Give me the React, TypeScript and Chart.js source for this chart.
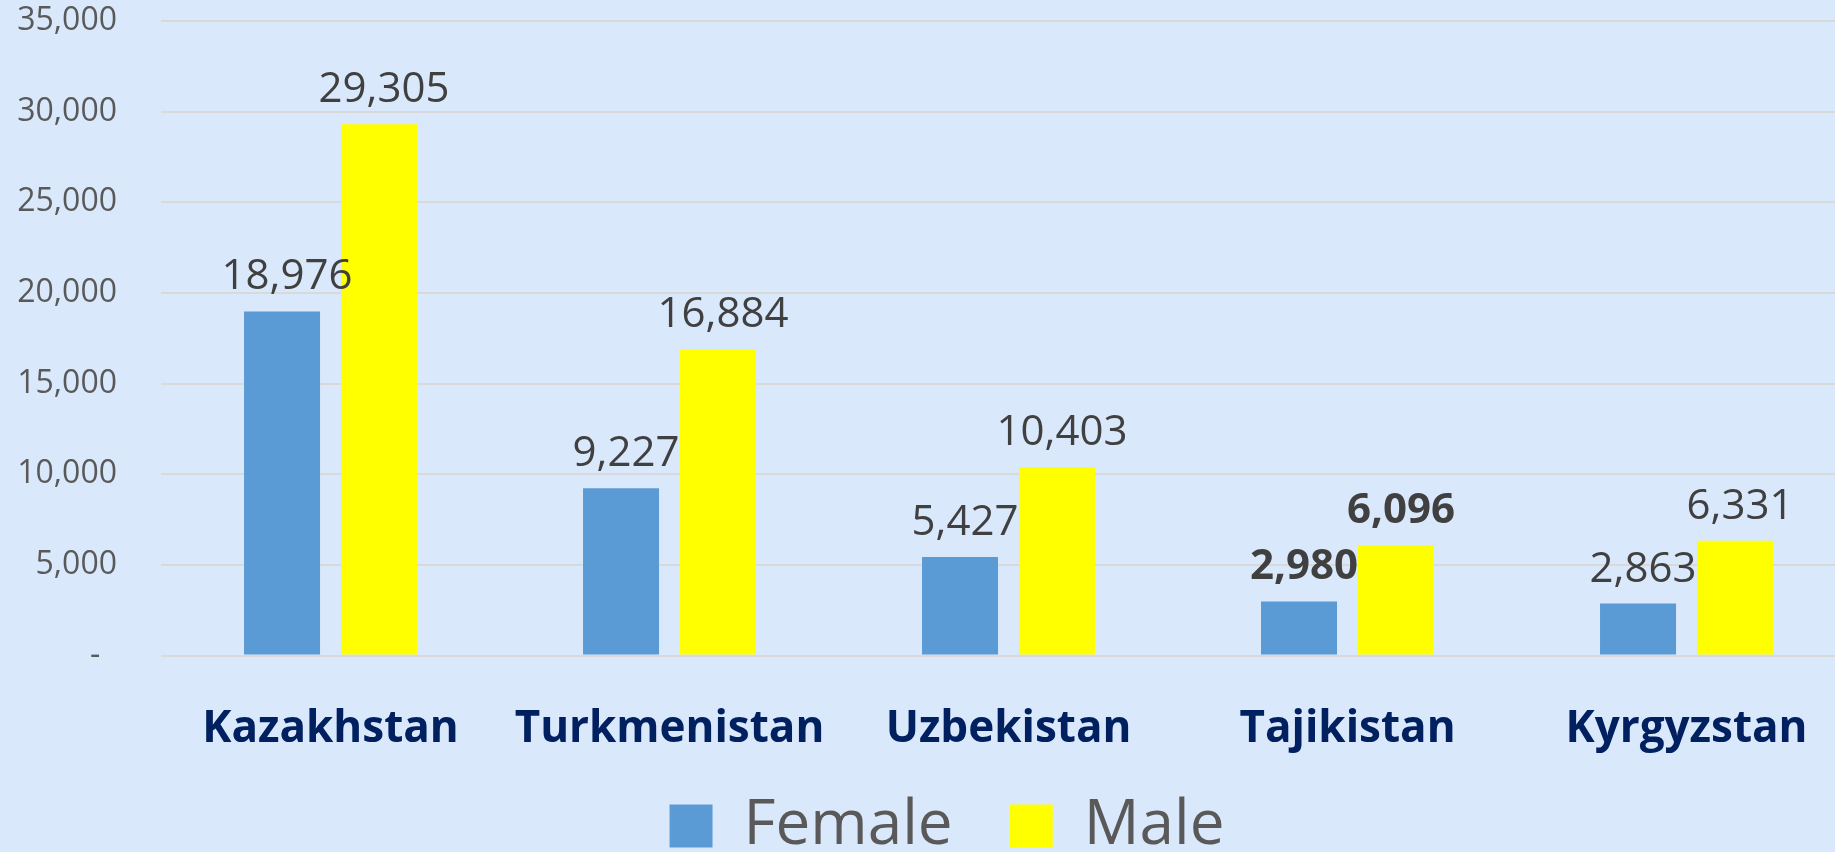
import React, { useEffect, useRef } from "react";
import { Chart, registerables } from "chart.js";

Chart.register(...registerables);

const categories = ["Kazakhstan", "Turkmenistan", "Uzbekistan", "Tajikistan", "Kyrgyzstan"];
const seriesNames = ["Female", "Male"];
const femaleValues = [18976, 9227, 5427, 2980, 2863];
const maleValues = [29305, 16884, 10403, 6096, 6331];
const yTickValues = [0, 5000, 10000, 15000, 20000, 25000, 30000, 35000];
const yTickLabels = ["-", "5,000", "10,000", "15,000", "20,000", "25,000", "30,000", "35,000"];
const boldLabelCategories = ["Tajikistan"];

const FONT = '"Open Sans", "Noto Sans", sans-serif';
const BG = "#DAE8FC";
const CANVAS_W = 1894;
const CANVAS_H = 867;

const valueLabels = {
  id: "valueLabels",
  afterDatasetsDraw(chart: any) {
    const ctx = chart.ctx;
    ctx.save();
    chart.data.datasets.forEach((ds: any, di: number) => {
      const meta = chart.getDatasetMeta(di);
      meta.data.forEach((bar: any, i: number) => {
        const v = ds.data[i] as number;
        const bold = boldLabelCategories.includes(categories[i]);
        ctx.font = `${bold ? "bold " : ""}42px ${FONT}`;
        ctx.fillStyle = "#404040";
        ctx.textAlign = "center";
        ctx.textBaseline = "alphabetic";
        ctx.fillText(v.toLocaleString("en-US"), bar.x + 5, bar.y - 22);
      });
    });
    ctx.restore();
  },
};

export default function App() {
  const canvasRef = useRef<HTMLCanvasElement | null>(null);

  useEffect(() => {
    const canvas = canvasRef.current;
    if (!canvas) return;
    const chart = new Chart(canvas, {
      type: "bar",
      data: {
        labels: categories,
        datasets: [
          {
            label: seriesNames[0],
            data: femaleValues,
            backgroundColor: "#5B9BD5",
            borderWidth: 0,
            categoryPercentage: 0.572,
            barPercentage: 0.784,
          },
          {
            label: seriesNames[1],
            data: maleValues,
            backgroundColor: "#FFFF00",
            borderWidth: 0,
            categoryPercentage: 0.572,
            barPercentage: 0.784,
          },
        ],
      },
      options: {
        responsive: false,
        animation: false,
        events: [],
        devicePixelRatio: 1,
        layout: { padding: { left: 0, top: 21, right: 0, bottom: 0 } },
        plugins: {
          tooltip: { enabled: false },
          legend: {
            position: "bottom",
            labels: {
              boxWidth: 43,
              boxHeight: 43,
              padding: 41,
              color: "#595959",
              font: { family: FONT, size: 62 },
              generateLabels(chart: any) {
                const items = Chart.defaults.plugins.legend.labels.generateLabels(chart);
                return items.map((it: any, i: number) =>
                  i < items.length - 1 ? { ...it, text: it.text + " " } : it
                );
              },
            },
          },
        },
        scales: {
          x: {
            grid: { display: false, drawTicks: false },
            border: { display: false },
            ticks: {
              color: "#002060",
              font: { family: FONT, size: 44, weight: "bold" },
              padding: 48,
              maxRotation: 0,
              autoSkip: false,
            },
            afterFit(scale: any) {
              scale.height = 98.5;
            },
          },
          y: {
            min: 0,
            max: 35000,
            afterBuildTicks(scale: any) {
              scale.ticks = yTickValues.map((v) => ({ value: v }));
            },
            ticks: {
              padding: 44,
              color: "#595959",
              font: { family: FONT, size: 32 },
              callback: (value: any) => {
                const idx = yTickValues.indexOf(Number(value));
                const lbl = idx >= 0 ? yTickLabels[idx] : String(value);
                return lbl === "-" ? "-  " : lbl;
              },
            },
            grid: { color: "#D9D9D9", lineWidth: 2, drawTicks: false },
            border: { display: false },
            afterFit(scale: any) {
              scale.width = 161;
              scale.paddingTop = 0;
              scale.paddingBottom = 0;
            },
          },
          yRight: {
            type: "linear",
            position: "right",
            display: true,
            grid: { display: false, drawTicks: false },
            border: { display: false },
            ticks: { display: false },
            afterFit(scale: any) {
              scale.width = 38;
              scale.paddingTop = 0;
              scale.paddingBottom = 0;
            },
          },
        },
      },
      plugins: [valueLabels],
    });
    return () => chart.destroy();
  }, []);

  return (
    <div
      style={{
        position: "fixed",
        left: 0,
        top: 0,
        width: 1835,
        height: 852,
        overflow: "hidden",
        background: BG,
      }}
    >
      <canvas
        ref={canvasRef}
        width={CANVAS_W}
        height={CANVAS_H}
        style={{ width: CANVAS_W, height: CANVAS_H, display: "block" }}
      />
    </div>
  );
}
